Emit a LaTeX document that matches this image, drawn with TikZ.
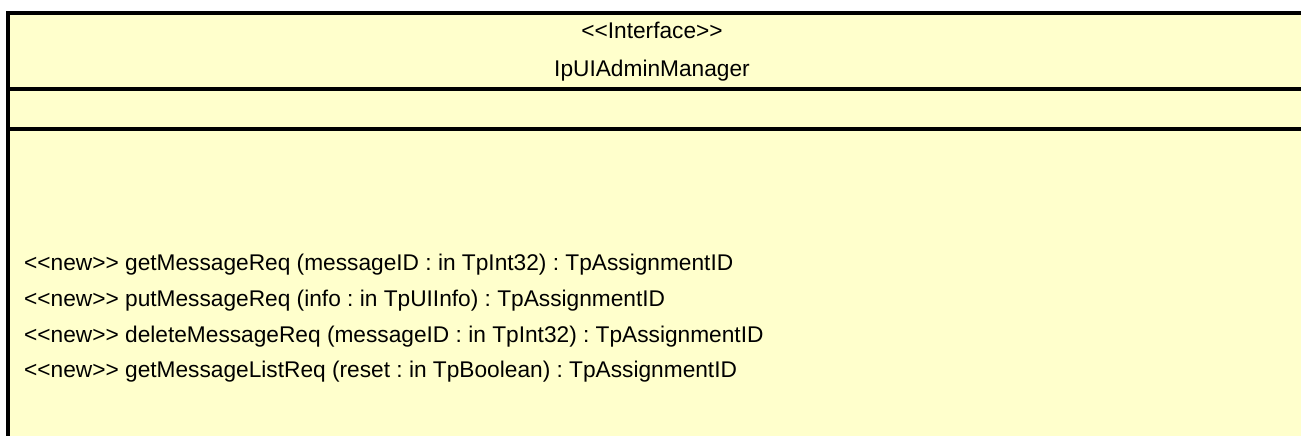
\documentclass[tikz,border=0pt]{standalone}
\usepackage{fontspec}
\setmainfont{Liberation Sans}[Ligatures=TeXOff]
\definecolor{umlfill}{HTML}{FFFFCC}
\tikzset{
  border/.style={line width=4pt, black},
  divider/.style={line width=3.5pt, black},
  umltext/.style={anchor=base, inner sep=0pt, font=\fontsize{22.7}{27}\selectfont},
  optext/.style={anchor=base west, inner sep=0pt, font=\fontsize{22.7}{27}\selectfont},
}
\frenchspacing
\begin{document}
\frenchspacing
\begin{tikzpicture}[x=1pt,y=-1pt]
\useasboundingbox (0,0) rectangle (1301,436);
\coordinate (tl) at (8,13);
\coordinate (tr) at (1301,13);
\coordinate (bl) at (8,436);
\coordinate (br) at (1301,436);
\coordinate (d1l) at (8,89);
\coordinate (d1r) at (1301,89);
\coordinate (d2l) at (8,129);
\coordinate (d2r) at (1301,129);
\fill[umlfill] (tl) rectangle (br);
\draw[border] (bl) -- (tl) -- (tr);
\draw[divider] (d1l) -- (d1r);
\draw[divider] (d2l) -- (d2r);
\node[umltext] (stereo) at (652,39) {<<Interface>>};
\node[umltext] (name) at (652,77) {IpUIAdminManager};
\node[optext] (op1) at (24,270) {<<new>> getMessageReq (messageID : in TpInt32) : TpAssignmentID};
\node[optext] (op2) at (24,306) {<<new>> putMessageReq (info : in TpUIInfo) : TpAssignmentID};
\node[optext] (op3) at (24,342) {<<new>> deleteMessageReq (messageID : in TpInt32) : TpAssignmentID};
\node[optext] (op4) at (24,377) {<<new>> getMessageListReq (reset : in TpBoolean) : TpAssignmentID};
\end{tikzpicture}
\end{document}
